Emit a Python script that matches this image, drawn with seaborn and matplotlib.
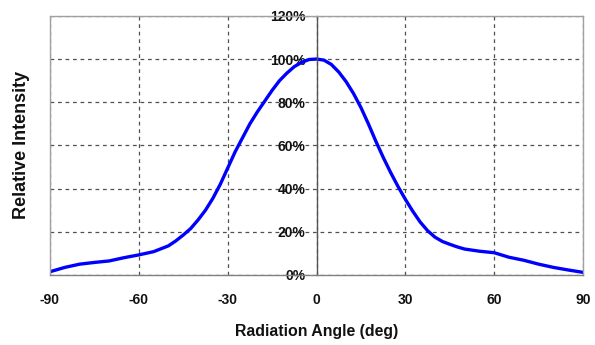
import matplotlib
matplotlib.use("Agg")
import matplotlib.pyplot as plt
import seaborn as sns
from matplotlib.ticker import PercentFormatter

# radiation pattern (finer steps where the curve bends)
angle = [-90, -85, -80, -75, -70, -65, -60, -55, -50, -47.5, -45, -42.5, -40,
         -37.5, -35, -32.5, -30, -27.5, -25, -22.5, -20, -17.5, -15, -12.5,
         -10, -7.5, -5, -2.5, 0, 2.5, 5, 7.5, 10, 12.5, 15, 17.5, 20, 22.5,
         25, 27.5, 30, 32.5, 35, 37.5, 40, 42.5, 45, 47.5, 50, 55, 60, 65,
         70, 75, 80, 85, 90]
intensity = [1.5, 3.5, 5.0, 5.8, 6.5, 8.0, 9.3, 10.8, 13.5, 15.8, 18.5, 21.5, 25.5,
             30.0, 35.5, 42.0, 49.5, 57.0, 63.5, 70.0, 75.5, 80.5, 85.5, 90.0,
             93.5, 96.5, 98.5, 99.8, 100.0, 99.5, 97.5, 94.0, 89.5, 84.0, 77.5, 70.0, 62.0, 54.5,
             47.5, 41.0, 35.0, 29.5, 24.5, 20.5, 17.5, 15.5, 14.2, 13.0, 12.0, 11.0, 10.3, 8.2,
             6.8, 5.0, 3.5, 2.3, 1.2]

xticks = [-90, -60, -30, 0, 30, 60, 90]
yticks = [0, 20, 40, 60, 80, 100, 120]

sns.set_theme(style="white")
plt.rcParams['font.family'] = ['Liberation Sans', 'DejaVu Sans']
plt.rcParams['axes.unicode_minus'] = False

fig = plt.figure(figsize=(5.95, 3.45), dpi=100)
ax = fig.add_axes([0.084, 0.203, 0.896, 0.751])

sns.lineplot(x=angle, y=intensity, color="#0000ff", lw=2.4, ax=ax)

ax.set_xlim(-90, 90)
ax.set_ylim(0, 120)
ax.set_xticks(xticks)
ax.set_yticks(yticks)
ax.yaxis.set_major_formatter(PercentFormatter(decimals=0))

ax.grid(True, linestyle=(0, (3, 3)), color="#505050", lw=0.9)

# y axis sits at 0 deg, frame all round
ax.spines['left'].set_position(('data', 0))
ax.spines['left'].set_color("#555555")
ax.spines['left'].set_linewidth(1.0)
for s in ['top', 'right', 'bottom']:
    ax.spines[s].set_color("#a0a0a0")
    ax.spines[s].set_linewidth(1.0)
ax.spines['bottom'].set_color("#808080")
ax.axvline(-90, color="#a0a0a0", lw=1.0, clip_on=False)

ax.tick_params(axis='y', direction='inout', length=4, width=1, color="#555555",
               labelsize=10, pad=6, labelcolor="#111111")
ax.tick_params(axis='x', length=0, labelsize=10, pad=13, labelcolor="#111111")
for lab in ax.get_xticklabels() + ax.get_yticklabels():
    lab.set_fontweight('bold')

ax.set_xlabel("Radiation Angle (deg)", fontsize=11.4, fontweight='bold',
              labelpad=12, color="#111111")
ax.set_ylabel("Relative Intensity", fontsize=13, fontweight='bold', color="#111111")
ax.yaxis.set_label_coords(-0.038, 0.5)

fig.savefig("out.png", dpi=100)
